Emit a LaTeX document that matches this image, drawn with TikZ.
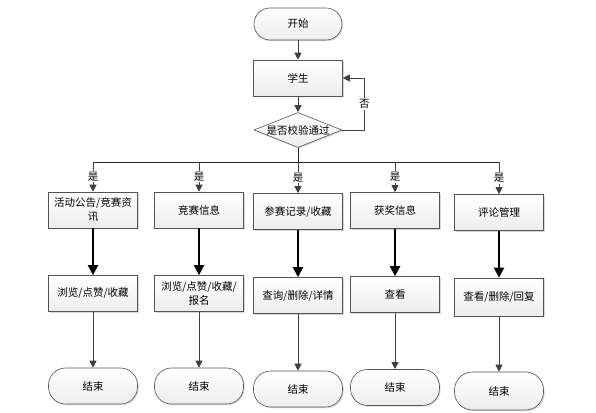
\documentclass[tikz,border=0pt]{standalone}
\usepackage{fontspec}
\setmainfont{Noto Sans CJK SC}
\usetikzlibrary{arrows.meta,shapes.geometric,shadows}

\tikzset{
    base/.style={draw=gray!65!black, line width=0.6pt, align=center,
        font=\fontsize{10.5}{14}\selectfont, minimum width=89pt, minimum height=36pt,
        inner sep=2pt, top color=white, bottom color=gray!14,
        drop shadow={shadow xshift=1.2pt, shadow yshift=-1.2pt, fill=gray!60, opacity=0.5}},
    box/.style={base},
    terminal/.style={base, rounded corners=17pt},
    decision/.style={base, diamond, minimum width=88pt, minimum height=35pt, inner sep=0pt},
    link/.style={-{Triangle[length=7pt, width=7pt]}, draw=black!75, line width=0.8pt},
    heavylink/.style={-{Triangle[length=10pt, width=10pt]}, line width=2pt},
    busline/.style={draw=black!85, line width=0.7pt},
    yes/.style={fill=white, inner sep=1pt, font=\fontsize{10.5}{12}\selectfont}
}

\begin{document}
\begin{tikzpicture}[x=1pt, y=-1pt]
    \useasboundingbox (0,0) rectangle (596,412);

    \node[terminal, minimum height=32pt, rounded corners=16pt, minimum width=88pt] (start) at (298,24) {开始};
    \node[box] (student) at (298,78) {学生};
    \node[decision] (check) at (298,130) {\makebox[0pt]{是否校验通过}};

    \coordinate (bus-1) at (93,162);
    \coordinate (bus-2) at (199,162);
    \coordinate (bus-3) at (298,162);
    \coordinate (bus-4) at (395,162);
    \coordinate (bus-5) at (499,162);

    \node[box] (news) at (93,210) {活动公告/竞赛资\\讯};
    \node[box] (contest) at (199,210) {竞赛信息};
    \node[box] (record) at (298,211.5) {参赛记录/收藏};
    \node[box] (award) at (395,210.5) {获奖信息};
    \node[box] (comment) at (499,212.5) {评论管理};

    \node[box] (news-op) at (93,293.5) {浏览/点赞/收藏};
    \node[box] (contest-op) at (199,293.5) {浏览/点赞/收藏/\\报名};
    \node[box] (record-op) at (298,295.5) {查询/删除/详情};
    \node[box] (award-op) at (395,294.5) {查看};
    \node[box, minimum height=38pt] (comment-op) at (499,297) {查看/删除/回复};

    \node[terminal] (news-end) at (93,386) {结束};
    \node[terminal] (contest-end) at (199,386) {结束};
    \node[terminal] (record-end) at (298,389) {结束};
    \node[terminal] (award-end) at (395,387.5) {结束};
    \node[terminal, minimum height=38pt, rounded corners=18pt] (comment-end) at (499,391) {结束};

    \draw[link] (start) -- (student);
    \draw[link] (student) -- (check);
    \draw[link] (check.east) -- ++(22,0) |- node[pos=0.25, yes] {否} (student.east);
    \draw[busline] (check.south) -- (bus-3);
    \draw[busline] (bus-1) -- (bus-5);

    \draw[link] (bus-1) -- node[yes] {是} (news.north);
    \draw[link] (bus-2) -- node[yes] {是} (contest.north);
    \draw[link] (bus-3) -- node[yes] {是} (record.north);
    \draw[link] (bus-4) -- node[yes] {是} (award.north);
    \draw[link] (bus-5) -- node[yes] {是} (comment.north);

    \draw[heavylink] (news) -- (news-op);
    \draw[heavylink] (contest) -- (contest-op);
    \draw[heavylink] (record) -- (record-op);
    \draw[heavylink] (award) -- (award-op);
    \draw[heavylink] (comment) -- (comment-op);

    \draw[link] (news-op) -- (news-end);
    \draw[link] (contest-op) -- (contest-end);
    \draw[link] (record-op) -- (record-end);
    \draw[link] (award-op) -- (award-end);
    \draw[link] (comment-op) -- (comment-end);
\end{tikzpicture}
\end{document}
